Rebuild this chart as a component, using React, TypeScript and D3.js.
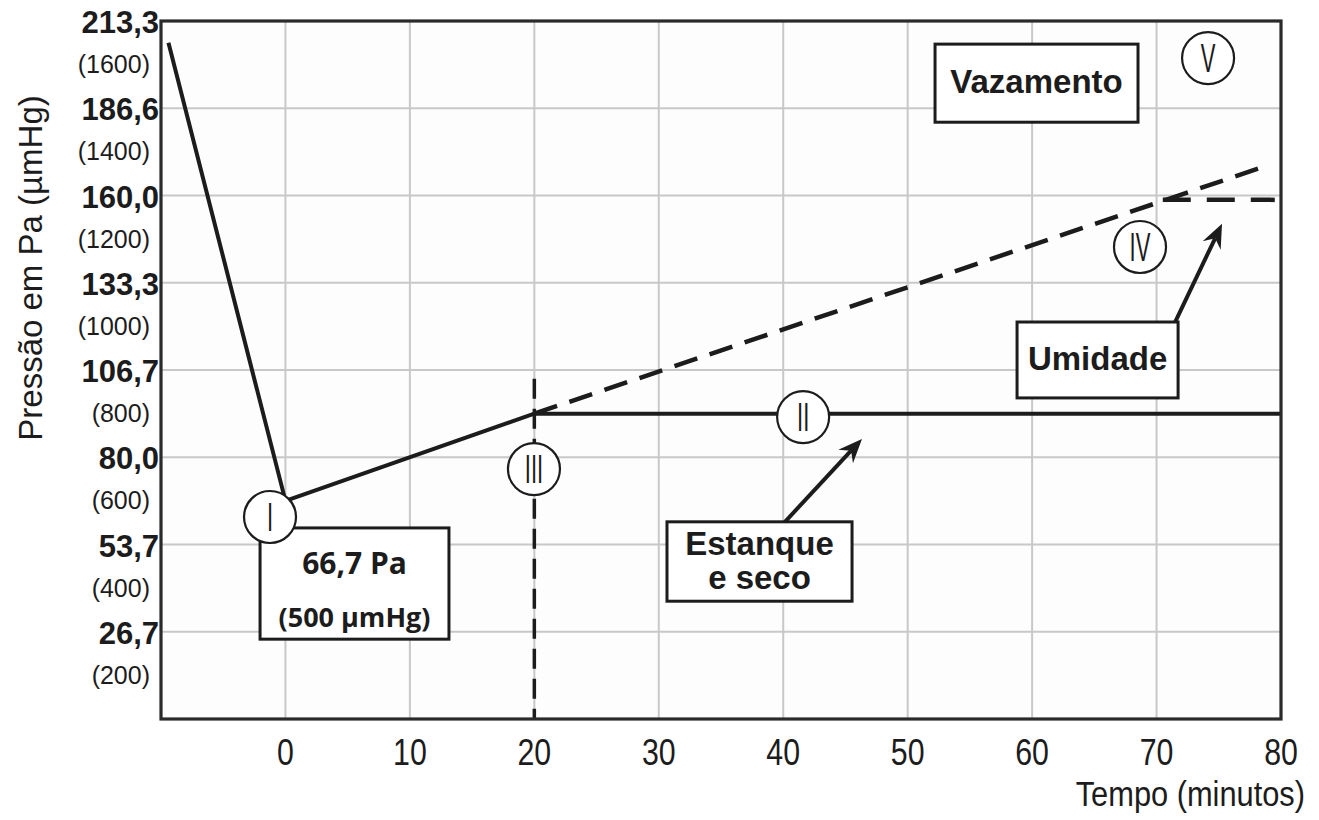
import React from "react";
import * as d3 from "d3";

// ---- data ----
const xTicks = [0, 10, 20, 30, 40, 50, 60, 70, 80];
const gridValues = [200, 400, 600, 800, 1000, 1200, 1400, 1600];
const paLabels = ["26,7", "53,7", "80,0", "106,7", "133,3", "160,0", "186,6", "213,3"];
const umLabels = ["(200)", "(400)", "(600)", "(800)", "(1000)", "(1200)", "(1400)", "(1600)"];

// solid pressure curve (minutes, µmHg)
const solidTimes = [-9.4, 0, 20, 80];
const solidValues = [1550, 500, 700, 700];
// dashed leak line
const leakTimes = [20, 78.2];
const leakValues = [700, 1262];
// dashed humidity plateau
const humTimes = [70.5, 79.5];
const humValues = [1190, 1190];
// vertical dashed marker at 20 min
const markTimes = [20, 20];
const markValues = [780, 0];

// roman markers (minutes, µmHg)
const romanLabels = ["I", "II", "III", "IV", "V"];
const romanTimes = [-1.24, 41.6, 19.97, 68.67, 74.14];
const romanValues = [463, 692, 573, 1082, 1515];

const FONT = "'Liberation Sans', Arial, sans-serif";

export default function App() {
  const W = 1319, H = 820;
  const x = d3.scaleLinear().domain([-10, 80]).range([161, 1281]);
  const y = d3.scaleLinear().domain([0, 1600]).range([719, 21]);
  const line = d3.line<[number, number]>().x((d) => x(d[0])).y((d) => y(d[1]));
  const pts = (t: number[], v: number[]) => t.map((ti, i) => [ti, v[i]] as [number, number]);
  const ink = "#1c1c1c";

  const box = (t0: number, t1: number, v0: number, v1: number) => ({
    x: x(t0), y: y(v0), w: x(t1) - x(t0), h: y(v1) - y(v0),
  });

  const arrow = (t0: number, v0: number, t1: number, v1: number) => {
    const x0 = x(t0), y0 = y(v0), x1 = x(t1), y1 = y(v1);
    const a = Math.atan2(y1 - y0, x1 - x0);
    const L = 24, hw = 10, notch = 16;
    const bx = x1 - L * Math.cos(a), by = y1 - L * Math.sin(a);
    const nx = x1 - notch * Math.cos(a), ny = y1 - notch * Math.sin(a);
    const px = -Math.sin(a), py = Math.cos(a);
    const head = `M${x1},${y1}L${bx + px * hw},${by + py * hw}L${nx},${ny}L${bx - px * hw},${by - py * hw}Z`;
    return (
      <g>
        <line x1={x0} y1={y0} x2={nx} y2={ny} stroke={ink} strokeWidth={4} />
        <path d={head} fill={ink} />
      </g>
    );
  };

  const b1 = box(-2.04, 13.14, 438, 183);
  const bE = box(30.66, 45.53, 452, 270);
  const bU = box(58.79, 71.73, 910, 736);
  const bV = box(52.2, 68.51, 1547, 1368);

  return (
    <svg width={W} height={H} style={{ position: "absolute", left: 0, top: 0, background: "#fff" }}>
      <rect x={x(-10)} y={y(1600)} width={x(80) - x(-10)} height={y(0) - y(1600)} fill="#fdfdfd" />
      {/* grid */}
      {xTicks.map((t) => (
        <line key={"vx" + t} x1={x(t)} x2={x(t)} y1={y(0)} y2={y(1600)} stroke="#c8c8c8" strokeWidth={2} />
      ))}
      {gridValues.map((v) => (
        <line key={"hy" + v} x1={x(-10)} x2={x(80)} y1={y(v)} y2={y(v)} stroke="#c8c8c8" strokeWidth={2} />
      ))}

      {/* y tick labels */}
      {gridValues.map((v, i) => (
        <g key={"yl" + v}>
          <text x={159} y={y(v) + 12} textAnchor="end" fontFamily={FONT} fontWeight="bold" fontSize={31} fill={ink}>
            {paLabels[i]}
          </text>
          <text x={150} y={y(v) + 52} textAnchor="end" fontFamily={FONT} fontSize={25} fill={ink}>
            {umLabels[i]}
          </text>
        </g>
      ))}

      {/* x tick labels */}
      {xTicks.map((t) => (
        <text key={"xl" + t} transform={`translate(${x(t)},765) scale(0.82,1)`} textAnchor="middle" fontFamily={FONT} fontSize={37} fill={ink}>
          {t}
        </text>
      ))}

      {/* axis titles */}
      <text transform={`translate(42,268) rotate(-90)`} textAnchor="middle" fontFamily={FONT} fontSize={33} fill={ink}>
        Pressão em Pa (µmHg)
      </text>
      <text transform={`translate(1305,806) scale(0.88,1)`} textAnchor="end" fontFamily={FONT} fontSize={35} fill={ink}>
        Tempo (minutos)
      </text>

      {/* data lines */}
      <path d={line(pts(markTimes, markValues)) || ""} fill="none" stroke={ink} strokeWidth={3.5} strokeDasharray="20 10" />
      <path d={line(pts(leakTimes, leakValues)) || ""} fill="none" stroke={ink} strokeWidth={4.5} strokeDasharray="24 13" />
      <path d={line(pts(humTimes, humValues)) || ""} fill="none" stroke={ink} strokeWidth={4.5} strokeDasharray="28 16" />
      <path d={line(pts(solidTimes, solidValues)) || ""} fill="none" stroke={ink} strokeWidth={4} strokeLinejoin="round" />

      {/* frame */}
      <rect x={x(-10)} y={y(1600)} width={x(80) - x(-10)} height={y(0) - y(1600)} fill="none" stroke="#2a2a2a" strokeWidth={3.2} />

      {/* annotation boxes */}
      <rect x={b1.x} y={b1.y} width={b1.w} height={b1.h} fill="#fff" stroke={ink} strokeWidth={3} />
      <text x={b1.x + b1.w / 2} y={574} textAnchor="middle" fontFamily="'Open Sans', sans-serif" fontWeight="bold" fontSize={30} fill={ink}>66,7 Pa</text>
      <text x={b1.x + b1.w / 2} y={627} textAnchor="middle" fontFamily="'Open Sans', sans-serif" fontWeight="bold" fontSize={27} fill={ink}>(500 µmHg)</text>

      <rect x={bE.x} y={bE.y} width={bE.w} height={bE.h} fill="#fff" stroke={ink} strokeWidth={3} />
      <text x={bE.x + bE.w / 2} y={555} textAnchor="middle" fontFamily={FONT} fontWeight="bold" fontSize={33} fill={ink}>Estanque</text>
      <text x={bE.x + bE.w / 2} y={589} textAnchor="middle" fontFamily={FONT} fontWeight="bold" fontSize={33} fill={ink}>e seco</text>

      <rect x={bU.x} y={bU.y} width={bU.w} height={bU.h} fill="#fff" stroke={ink} strokeWidth={3} />
      <text x={bU.x + bU.w / 2} y={370} textAnchor="middle" fontFamily={FONT} fontWeight="bold" fontSize={33} fill={ink}>Umidade</text>

      <rect x={bV.x} y={bV.y} width={bV.w} height={bV.h} fill="#fff" stroke={ink} strokeWidth={3} />
      <text x={bV.x + bV.w / 2} y={93} textAnchor="middle" fontFamily={FONT} fontWeight="bold" fontSize={33} fill={ink}>Vazamento</text>

      {/* arrows */}
      {arrow(40.14, 452, 46.33, 642)}
      {arrow(71.49, 910, 75.26, 1135)}

      {/* roman markers */}
      {romanLabels.map((r, i) => {
        const cx = x(romanTimes[i]), cy = y(romanValues[i]);
        return (
          <g key={"r" + r}>
            <circle cx={cx} cy={cy} r={26} fill="#fff" stroke={ink} strokeWidth={2.2} />
            <text transform={`translate(${cx},${cy + 14}) scale(0.55,1)`} textAnchor="middle" fontFamily={FONT} fontSize={40} fill={ink}>
              {r}
            </text>
          </g>
        );
      })}
    </svg>
  );
}
